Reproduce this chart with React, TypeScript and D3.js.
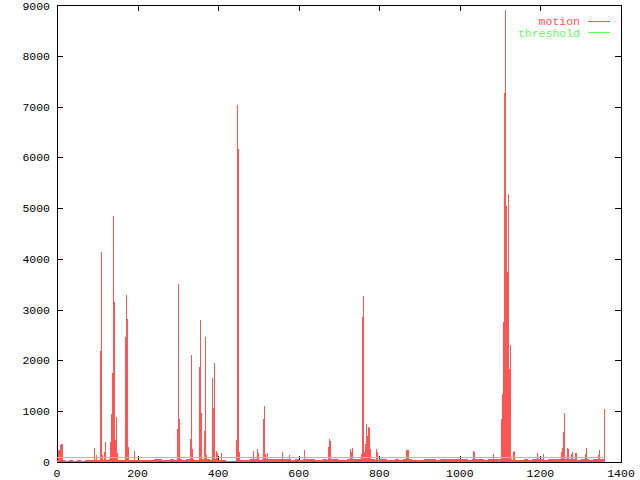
import * as d3 from "d3";

// spikes above the noise floor: frame number and motion value
const spikeFrames = [
  2, 5, 7, 10, 12, 93, 96, 107, 109, 112, 117, 119, 131, 134, 136, 139, 141, 144, 146, 149,
  169, 171, 174, 176, 191, 298, 300, 303, 330, 333, 335, 352, 355, 357, 365, 367, 370,
  385, 387, 390, 395, 397, 407, 444, 447, 449, 452, 486, 496, 498, 511, 514, 516, 521,
  558, 576, 613, 673, 675, 678, 727, 730, 732, 755, 757, 760, 762, 764, 767, 769, 772, 774, 776,
  792, 794, 866, 868, 871, 1033, 1035, 1082, 1102, 1104, 1107, 1109, 1112, 1114, 1117, 1119,
  1122, 1124, 1132, 1134, 1191, 1206, 1251, 1253, 1256, 1258, 1266, 1268, 1276, 1278, 1286,
  1288, 1310, 1313, 1343, 1345, 1358,
];
const spikeValues = [
  240, 240, 340, 350, 350, 280, 130, 2190, 4140, 140, 200, 390, 390, 940, 1750, 4850, 3150, 430, 890, 170,
  2460, 3290, 2820, 300, 220, 650, 3510, 850, 455, 2110, 260, 1870, 2800, 970, 610, 2470, 130,
  1660, 1065, 1955, 215, 180, 180, 435, 7040, 6170, 200, 220, 250, 180, 850, 1100, 160, 180,
  200, 140, 235, 300, 455, 420, 255, 200, 275, 160, 2860, 3275, 200, 355, 750, 515, 690, 670, 250,
  255, 190, 240, 240, 240, 215, 190, 150, 850, 1340, 2750, 7260, 8900, 5050, 3750, 5270,
  1830, 2310, 205, 225, 180, 160, 200, 275, 590, 965, 280, 255, 160, 205, 180,
  178, 160, 275, 130, 235, 1045,
];

// noise floor, one value per 10 frames starting at frame 0
const noiseStep = 10;
const noiseValues = [
  45, 30, 25, 30, 25, 30, 28, 32, 30, 35,
  40, 35, 45, 50, 40, 30, 35, 40, 45, 40,
  35, 30, 40, 45, 50, 55, 45, 40, 50, 45,
  50, 45, 50, 55, 45, 40, 50, 55, 45, 50,
  40, 30, 25, 20, 25, 30, 40, 45, 50, 55,
  45, 50, 55, 60, 50, 55, 60, 50, 45, 50,
  45, 50, 60, 55, 45, 40, 50, 45, 55, 50,
  45, 40, 50, 55, 60, 65, 55, 50, 55, 45,
  50, 55, 45, 40, 50, 45, 50, 55, 45, 40,
  45, 50, 55, 50, 45, 50, 55, 60, 55, 50,
  55, 50, 45, 50, 55, 50, 45, 50, 55, 50,
  60, 60, 50, 45, 40, 45, 50, 45, 50, 55,
  50, 45, 50, 55, 50, 60, 65, 55, 50, 45,
  50, 55, 45, 50, 55, 60, 45,
];
const lastFrame = 1360;

const thresholdFrames = [0, 1360];
const thresholdValues = [90, 90];

const xTicks = [0, 200, 400, 600, 800, 1000, 1200, 1400];
const yTicks = [0, 1000, 2000, 3000, 4000, 5000, 6000, 7000, 8000, 9000];

const W = 640;
const H = 480;
const left = 57;
const right = 621;
const top = 5;
const bottom = 462;
const RED = "#ff5555";
const GREEN = "#5cff5c";
const FONT = "'Liberation Mono', 'DejaVu Sans Mono', monospace";

export default function App() {
  const x = d3.scaleLinear().domain([0, 1400]).range([left, right]);
  const y = d3.scaleLinear().domain([0, 9000]).range([bottom, top]);
  const line = d3
    .line<number>()
    .x((_, i) => x(thresholdFrames[i]))
    .y((d) => y(d));
  const tick = 6;

  return (
    <svg
      width={W}
      height={H}
      style={{ position: "absolute", left: 0, top: 0, background: "#fff" }}
      fontFamily={FONT}
      fontSize={11.5}
    >
      <rect width={W} height={H} fill="#fff" />
      {/* border + mirrored ticks */}
      <g stroke="#000" strokeWidth={1} shapeRendering="crispEdges">
        <rect x={left} y={top} width={right - left} height={bottom - top} fill="none" />
        {yTicks.map((t) => (
          <g key={"y" + t}>
            <line x1={left} x2={left + tick} y1={Math.round(y(t)) + 0.5} y2={Math.round(y(t)) + 0.5} />
            <line x1={right - tick} x2={right} y1={Math.round(y(t)) + 0.5} y2={Math.round(y(t)) + 0.5} />
          </g>
        ))}
        {xTicks.map((t) => (
          <g key={"x" + t}>
            <line x1={Math.round(x(t)) + 0.5} x2={Math.round(x(t)) + 0.5} y1={bottom} y2={bottom - tick} />
            <line x1={Math.round(x(t)) + 0.5} x2={Math.round(x(t)) + 0.5} y1={top} y2={top + tick} />
          </g>
        ))}
      </g>
      {yTicks.map((t) => (
        <text key={"yl" + t} x={left - 7} y={Math.max(y(t) + 4, 10)} textAnchor="end" fill="#000">
          {t}
        </text>
      ))}
      {xTicks.map((t) => (
        <text key={"xl" + t} x={x(t)} y={477} textAnchor="middle" fill="#000">
          {t}
        </text>
      ))}

      {/* motion: noise floor and impulses */}
      <g fill={RED} shapeRendering="crispEdges">
        {noiseValues.map((v, i) => {
          const f0 = i * noiseStep;
          const f1 = Math.min(f0 + noiseStep, lastFrame);
          return (
            <rect key={"n" + i} x={x(f0)} width={x(f1) - x(f0)} y={y(v)} height={y(0) - y(v)} />
          );
        })}
      </g>
      <g stroke={RED} strokeWidth={1} shapeRendering="crispEdges">
        {spikeFrames.map((f, i) => {
          const px = Math.round(x(f)) + 0.5;
          return <line key={"s" + i} x1={px} x2={px} y1={y(0)} y2={y(spikeValues[i])} />;
        })}
      </g>

      {/* threshold */}
      <path d={line(thresholdValues) || ""} fill="none" stroke={GREEN} strokeWidth={1} shapeRendering="crispEdges" />

      {/* key */}
      <text x={580} y={25} textAnchor="end" fill={RED}>motion</text>
      <line x1={588} x2={610} y1={21.5} y2={21.5} stroke={RED} />
      <text x={580} y={37} textAnchor="end" fill={GREEN}>threshold</text>
      <line x1={588} x2={610} y1={32.5} y2={32.5} stroke={GREEN} />
    </svg>
  );
}
